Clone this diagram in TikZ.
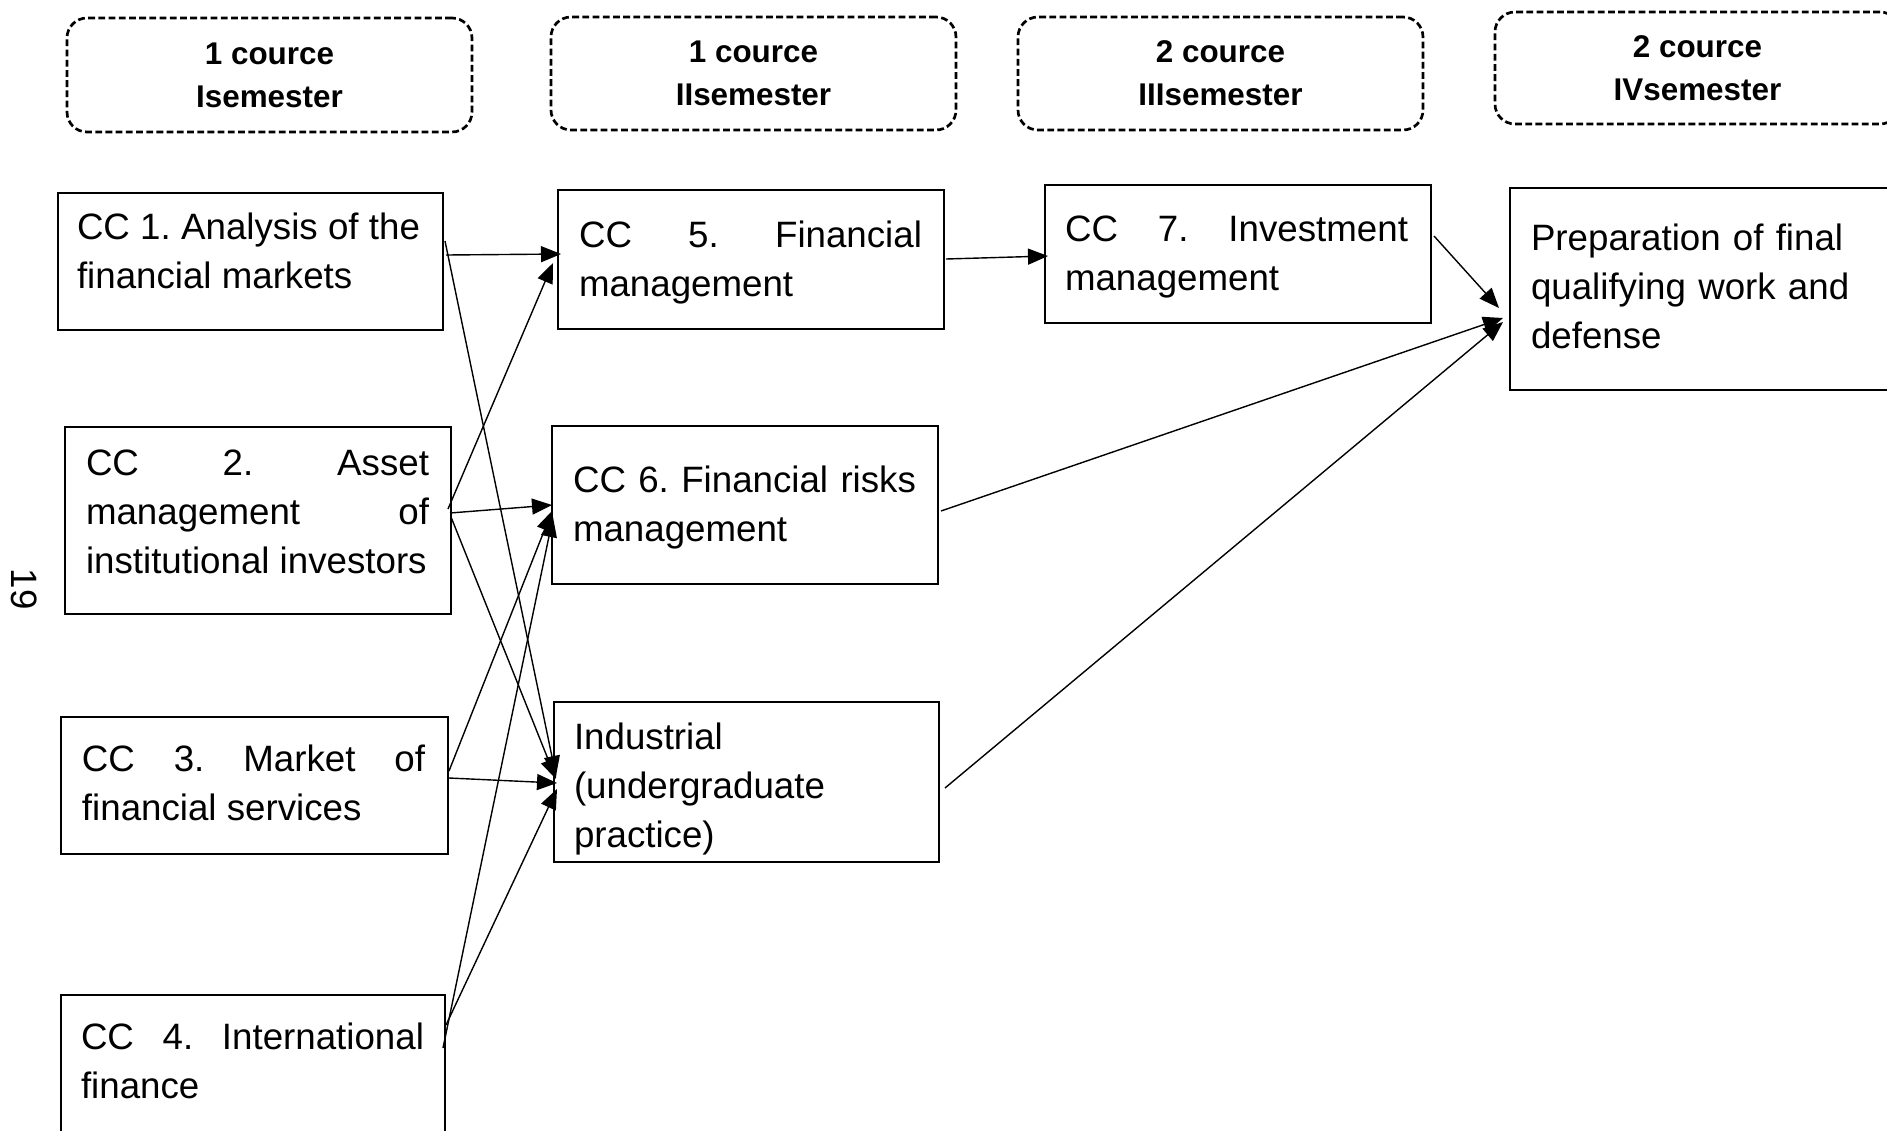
\documentclass[tikz,border=0pt]{standalone}
\usepackage{fontspec}
\setmainfont{Liberation Sans}
\usetikzlibrary{arrows.meta}
\frenchspacing
\newcommand\mybody{\fontsize{18.35pt}{24.5pt}\selectfont\frenchspacing\hyphenpenalty=10000 \tolerance=10000 }
\newcommand\myhead{\fontsize{15.7pt}{21.5pt}\selectfont\bfseries}
\newcommand\firstl{\rule{0pt}{15pt}}
\begin{document}
\begin{tikzpicture}[x=0.5pt,y=-0.5pt,
  box/.style={draw, line width=1.35pt, rectangle, inner sep=0pt, outer sep=0pt, anchor=north west},
  hdr/.style={draw, line width=1.35pt, dash pattern=on 3.4pt off 1.7pt, rounded corners=10pt,
              minimum width=202.5pt, inner sep=0pt, outer sep=0pt, align=center, font=\myhead},
  txt/.style={anchor=north west, inner sep=0pt, outer sep=0pt, text width=171.5pt, align=justify, font=\mybody},
  txtl/.style={txt, align=left},
  conn/.style={line width=0.7pt, -{Triangle[length=10pt,width=8pt]}}]
\useasboundingbox (0,0) rectangle (1887,1131);
\fill[white] (0,0) rectangle (1887,1131);
\clip (0,0) rectangle (1887,1131);

% headers
\node[hdr, minimum height=57pt] (h1) at (269.5,75) {1 cource\\Isemester};
\node[hdr, minimum height=56.5pt] (h2) at (753.5,73.5) {1 cource\\IIsemester};
\node[hdr, minimum height=56.5pt] (h3) at (1220.5,73.5) {2 cource\\IIIsemester};
\node[hdr, minimum height=56pt] (h4) at (1697.5,68) {2 cource\\IVsemester};

% page number
\node[font=\mybody, rotate=-90, inner sep=0pt] (pg) at (24,589) {19};

% boxes
\node[box, minimum width=192.5pt, minimum height=68.5pt] (cc1) at (58,193) {};
\node[box, minimum width=193pt, minimum height=93.5pt] (cc2) at (65,427) {};
\node[box, minimum width=193.5pt, minimum height=68.5pt] (cc3) at (61,717) {};
\node[box, minimum width=192pt, minimum height=80pt] (cc4) at (61,995) {};
\node[box, minimum width=193pt, minimum height=69.5pt] (cc5) at (558,190) {};
\node[box, minimum width=193pt, minimum height=79pt] (cc6) at (552,426) {};
\node[box, minimum width=192.5pt, minimum height=80pt] (ind) at (554,702) {};
\node[box, minimum width=193pt, minimum height=69pt] (cc7) at (1045,185) {};
\node[box, minimum width=200pt, minimum height=101pt] (prep) at (1510,188) {};

% texts
\node[txt] (t1) at ([shift={(19,16)}]cc1.north west) {\firstl CC 1. Analysis of the\linebreak financial markets};
\node[txt] (t2) at ([shift={(21,18)}]cc2.north west) {\firstl CC 2. Asset\linebreak management of\linebreak institutional investors};
\node[txt] (t3) at ([shift={(21,24)}]cc3.north west) {\firstl CC 3. Market of\linebreak financial services};
\node[txt] (t4) at ([shift={(20,24)}]cc4.north west) {\firstl CC 4. International\linebreak finance};
\node[txt] (t5) at ([shift={(21,27)}]cc5.north west) {\firstl CC 5. Financial\linebreak management};
\node[txt] (t6) at ([shift={(21,36)}]cc6.north west) {\firstl CC 6. Financial risks\linebreak management};
\node[txtl] (t7) at ([shift={(20,17)}]ind.north west) {\firstl Industrial\\(undergraduate\\practice)};
\node[txt] (t8) at ([shift={(20,26)}]cc7.north west) {\firstl CC 7. Investment\linebreak management};
\node[txtl] (t9) at ([shift={(21,32)}]prep.north west) {\firstl Preparation of final\\qualifying work and\\defense};

% connectors
\draw[conn] ([shift={(3,62)}]cc1.north east) -- ([shift={(3,64)}]cc5.north west);
\draw[conn] ([shift={(2,48)}]cc1.north east) -- ([shift={(2,74)}]ind.north west);
\draw[conn] ([shift={(-3,82)}]cc2.north east) -- ([shift={(-5,73)}]cc5.north west);
\draw[conn] ([shift={(-1,86)}]cc2.north east) -- ([shift={(0,79)}]cc6.north west);
\draw[conn] ([shift={(0,90)}]cc2.north east) -- ([shift={(2,77)}]ind.north west);
\draw[conn] ([shift={(1,54)}]cc3.north east) -- ([shift={(0,85)}]cc6.north west);
\draw[conn] ([shift={(1,61)}]cc3.north east) -- ([shift={(3,81)}]ind.north west);
\draw[conn] ([shift={(-2,53)}]cc4.north east) -- ([shift={(1,91)}]cc6.north west);
\draw[conn] ([shift={(1,30)}]cc4.north east) -- ([shift={(3,87)}]ind.north west);
\draw[conn] ([shift={(2,69)}]cc5.north east) -- ([shift={(3,71)}]cc7.north west);
\draw[conn] ([shift={(3,51)}]cc7.north east) -- ([shift={(-11,120)}]prep.north west);
\draw[conn] ([shift={(3,85)}]cc6.north east) -- ([shift={(-7,130)}]prep.north west);
\draw[conn] ([shift={(6,86)}]ind.north east) -- ([shift={(-7,134)}]prep.north west);
\end{tikzpicture}
\end{document}
